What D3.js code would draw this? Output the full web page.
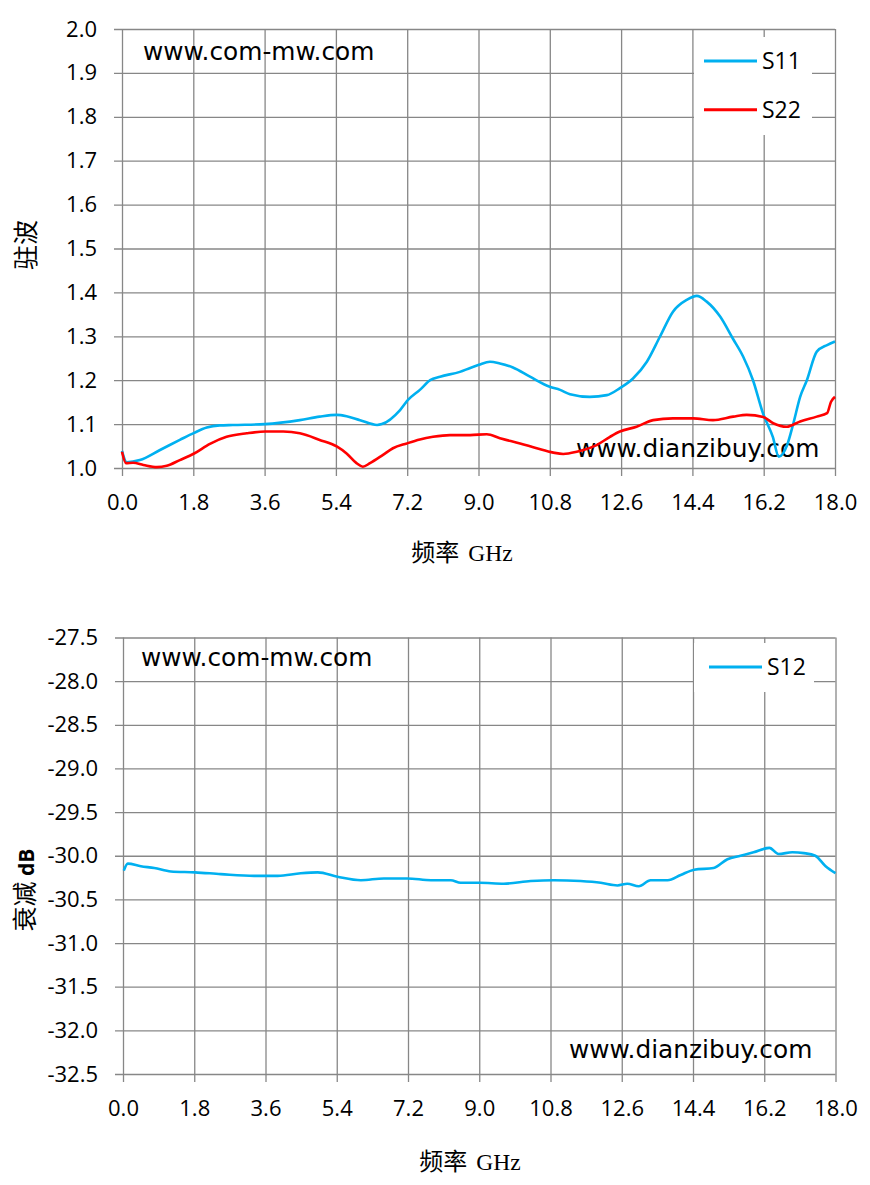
<!DOCTYPE html>
<html>
<head>
  <meta charset="utf-8">
  <title>S-parameter charts</title>
  <script src="https://d3js.org/d3.v7.min.js"></script>
  <style>
    body { margin: 0; background: #fff; }
    .tick text { font-family: "Open Sans", sans-serif; font-size: 22px; fill: #000; }
  </style>
</head>
<body>
  <div id="chart"></div>

  <script>
    // tick labels
    var freqTicks = [0.0, 1.8, 3.6, 5.4, 7.2, 9.0, 10.8, 12.6, 14.4, 16.2, 18.0];
    var vswrTicks = [1.0, 1.1, 1.2, 1.3, 1.4, 1.5, 1.6, 1.7, 1.8, 1.9, 2.0];
    var attTicks = [-32.5, -32.0, -31.5, -31.0, -30.5, -30.0, -29.5, -29.0, -28.5, -28.0, -27.5];

    // S11 (GHz, VSWR)
    var s11Freq = [0.0, 0.12, 0.45, 0.96, 1.46, 1.82, 2.14, 2.47, 2.80, 3.60, 4.49, 4.99, 5.42, 5.67,
      6.01, 6.44, 6.56, 7.02, 7.22, 7.52, 7.78, 8.03, 8.53, 8.79, 9.01, 9.29, 9.54, 9.87, 10.30,
      10.80, 11.06, 11.31, 11.81, 12.24, 12.57, 12.90, 13.25, 13.58, 13.91, 14.26, 14.51, 14.76,
      15.10, 15.42, 15.68, 15.93, 16.18, 16.43, 16.58, 16.79, 16.95, 17.12, 17.29, 17.54, 17.80, 18.0];
    var s11Vswr = [1.039, 1.013, 1.018, 1.041, 1.064, 1.080, 1.092, 1.097, 1.098, 1.100, 1.109, 1.117,
      1.121, 1.118, 1.109, 1.098, 1.100, 1.132, 1.155, 1.178, 1.200, 1.208, 1.219, 1.228, 1.235,
      1.242, 1.238, 1.229, 1.208, 1.185, 1.178, 1.168, 1.162, 1.166, 1.182, 1.204, 1.242, 1.299,
      1.356, 1.383, 1.392, 1.379, 1.345, 1.295, 1.254, 1.200, 1.125, 1.071, 1.026, 1.052, 1.102,
      1.162, 1.200, 1.265, 1.280, 1.288];

    // S22 (GHz, VSWR)
    var s22Freq = [0.0, 0.10, 0.28, 0.54, 0.88, 1.13, 1.46, 1.82, 2.22, 2.64, 3.15, 3.62, 4.07, 4.49,
      4.99, 5.42, 5.67, 5.92, 6.08, 6.26, 6.59, 6.84, 7.19, 7.52, 7.85, 8.28, 8.79, 9.21, 9.54,
      10.05, 10.47, 10.89, 11.14, 11.48, 11.98, 12.32, 12.57, 12.99, 13.41, 13.91, 14.42, 14.92,
      15.43, 15.77, 16.19, 16.44, 16.78, 17.12, 17.54, 17.80, 17.90, 18.0];
    var s22Vswr = [1.037, 1.011, 1.012, 1.007, 1.002, 1.005, 1.018, 1.033, 1.055, 1.071, 1.079, 1.083,
      1.083, 1.079, 1.064, 1.049, 1.033, 1.011, 1.003, 1.011, 1.030, 1.045, 1.056, 1.065, 1.071,
      1.075, 1.075, 1.077, 1.068, 1.056, 1.045, 1.035, 1.032, 1.037, 1.052, 1.071, 1.083, 1.094,
      1.109, 1.113, 1.113, 1.109, 1.117, 1.121, 1.116, 1.102, 1.094, 1.106, 1.117, 1.125, 1.151, 1.162];

    // S12 (GHz, dB)
    var s12Freq = [0.02, 0.12, 0.45, 0.79, 1.21, 1.82, 2.47, 3.31, 3.91, 4.49, 4.92, 5.42, 6.01, 6.59,
      7.18, 7.78, 8.28, 8.53, 9.01, 9.62, 10.30, 10.88, 11.56, 12.07, 12.49, 12.74, 13.03, 13.33,
      13.76, 14.09, 14.43, 14.92, 15.27, 15.60, 15.93, 16.33, 16.56, 16.91, 17.20, 17.49, 17.75, 18.0];
    var s12Db = [-30.17, -30.09, -30.12, -30.14, -30.18, -30.19, -30.21, -30.23, -30.23, -30.20, -30.19,
      -30.24, -30.28, -30.26, -30.26, -30.28, -30.28, -30.31, -30.31, -30.32, -30.29, -30.28, -30.29,
      -30.31, -30.34, -30.32, -30.35, -30.28, -30.28, -30.22, -30.16, -30.14, -30.04, -30.00, -29.96,
      -29.91, -29.98, -29.96, -29.97, -30.00, -30.12, -30.20];

    var gridColor = "#878787";
    var blue = "#00B0F0";
    var red = "#FF0000";

    var svg = d3.select("#chart")
      .append("svg")
      .attr("width", 870)
      .attr("height", 1185);

    function zip(xs, ys) {
      return xs.map(function(x, i) { return [x, ys[i]]; });
    }

    function drawPanel(cfg) {
      var x = d3.scaleLinear().domain([0, 18]).range([cfg.left, cfg.right]);
      var y = d3.scaleLinear().domain(cfg.yDomain).range([cfg.bottom, cfg.top]);
      var g = svg.append("g");

      // y grid + labels
      var yAxis = g.append("g")
        .attr("transform", "translate(" + (cfg.left - 8) + ",0)")
        .call(d3.axisLeft(y)
          .tickValues(cfg.yTicks)
          .tickFormat(function(d) { return d.toFixed(1); })
          .tickSize(-(cfg.right - cfg.left + 8))
          .tickPadding(17));
      yAxis.select(".domain").remove();
      yAxis.selectAll("line").attr("stroke", gridColor).attr("stroke-width", 1.3);

      // x grid + labels
      var xAxis = g.append("g")
        .attr("transform", "translate(0," + (cfg.bottom + 8) + ")")
        .call(d3.axisBottom(x)
          .tickValues(freqTicks)
          .tickFormat(function(d) { return d.toFixed(1); })
          .tickSize(-(cfg.bottom - cfg.top + 8))
          .tickPadding(18));
      xAxis.select(".domain").remove();
      xAxis.selectAll("line").attr("stroke", gridColor).attr("stroke-width", 1.3);

      // legend background
      g.append("rect")
        .attr("x", cfg.legend.x0).attr("y", cfg.legend.y0)
        .attr("width", cfg.legend.x1 - cfg.legend.x0)
        .attr("height", cfg.legend.y1 - cfg.legend.y0)
        .attr("fill", "#fff");

      cfg.series.forEach(function(s, i) {
        var ly = cfg.legend.lineY + i * cfg.legend.step;
        g.append("line")
          .attr("x1", cfg.legend.lineX).attr("x2", cfg.legend.lineX + 53)
          .attr("y1", ly).attr("y2", ly)
          .attr("stroke", s.color).attr("stroke-width", 3);
        g.append("text")
          .attr("x", cfg.legend.lineX + 58).attr("y", ly + 8)
          .attr("font-family", "Open Sans, sans-serif")
          .attr("font-size", 23)
          .text(s.name);
      });

      // watermarks
      cfg.marks.forEach(function(m) {
        g.append("text")
          .attr("x", m.x).attr("y", m.y)
          .attr("font-family", "DejaVu Sans, sans-serif")
          .attr("font-size", 24.8)
          .attr("fill", "#000")
          .text(m.text);
      });

      var line = d3.line()
        .x(function(d) { return x(d[0]); })
        .y(function(d) { return y(d[1]); })
        .curve(d3.curveMonotoneX);

      cfg.series.forEach(function(s) {
        g.append("path")
          .datum(zip(s.freq, s.vals))
          .attr("d", line)
          .attr("fill", "none")
          .attr("stroke", s.color)
          .attr("stroke-width", 2.6)
          .attr("stroke-linejoin", "round");
      });

      // axis titles
      var xt = g.append("text")
        .attr("x", cfg.xTitle.x).attr("y", cfg.xTitle.y)
        .attr("text-anchor", "middle")
        .attr("font-size", 24);
      xt.append("tspan").attr("font-family", "Noto Sans CJK SC").text("频率");
      xt.append("tspan").attr("font-family", "Liberation Serif").attr("font-size", 23.5)
        .attr("dx", 9).text("GHz");

      var yt = g.append("text")
        .attr("transform", "translate(" + cfg.yTitle.x + "," + cfg.yTitle.y + ") rotate(-90)")
        .attr("text-anchor", "middle")
        .attr("font-size", 25);
      yt.append("tspan").attr("font-family", "Noto Sans CJK SC").text(cfg.yTitle.cjk);
      if (cfg.yTitle.unit) {
        yt.append("tspan")
          .attr("font-family", "Open Sans, sans-serif")
          .attr("font-weight", "bold")
          .attr("font-size", 21)
          .text(" " + cfg.yTitle.unit);
      }
    }

    drawPanel({
      left: 122, right: 835, top: 29, bottom: 468,
      yDomain: [1, 2], yTicks: vswrTicks,
      series: [
        { name: "S11", color: blue, freq: s11Freq, vals: s11Vswr },
        { name: "S22", color: red, freq: s22Freq, vals: s22Vswr }
      ],
      legend: { x0: 694, x1: 812, y0: 37, y1: 135, lineX: 704, lineY: 61, step: 48.7 },
      marks: [
        { text: "www.com-mw.com", x: 143, y: 60 },
        { text: "www.dianzibuy.com", x: 576, y: 457 }
      ],
      xTitle: { x: 462, y: 561 },
      yTitle: { x: 35, y: 245, cjk: "驻波" }
    });

    drawPanel({
      left: 123, right: 835.5, top: 637.5, bottom: 1074,
      yDomain: [-32.5, -27.5], yTicks: attTicks,
      series: [
        { name: "S12", color: blue, freq: s12Freq, vals: s12Db }
      ],
      legend: { x0: 694, x1: 814, y0: 643, y1: 692, lineX: 709, lineY: 667, step: 0 },
      marks: [
        { text: "www.com-mw.com", x: 141, y: 666 },
        { text: "www.dianzibuy.com", x: 569, y: 1058 }
      ],
      xTitle: { x: 470, y: 1170 },
      yTitle: { x: 34, y: 890, cjk: "衰减", unit: "dB" }
    });
  </script>
</body>
</html>
